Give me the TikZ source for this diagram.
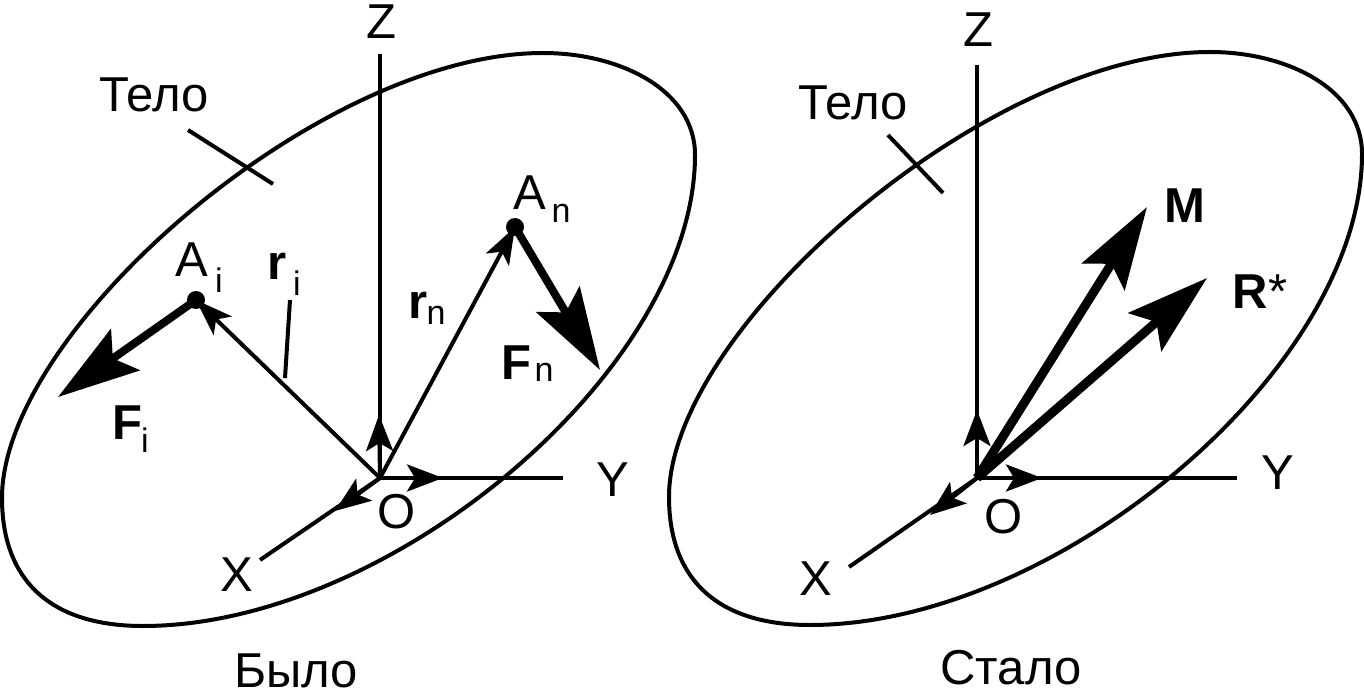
\documentclass[tikz,border=0pt]{standalone}
\usepackage{fontspec}
\setmainfont{Liberation Sans}
\usetikzlibrary{arrows.meta}
\newcommand{\bodyoutline}{(543,53) .. controls (620,53) and (695,90) .. (695,155)
  .. controls (695,370) and (390,626) .. (143,626)
  .. controls (50,626) and (2,580) .. (2,498)
  .. controls (2,330) and (320,53) .. (543,53) -- cycle}
\tikzset{
  x=1pt,y=-1pt,
  thinline/.style={line width=4pt},
  lab/.style={inner sep=0pt,font=\fontsize{49}{52}\selectfont},
  blab/.style={inner sep=0pt,font=\fontsize{49}{52}\selectfont\bfseries},
  sub/.style={inner sep=0pt,font=\fontsize{34}{36}\selectfont},
  axarrow/.style={line width=4pt,-{Stealth[length=36pt,width=27pt,inset=8pt]}},
  thickF/.style={line width=8pt,-{Stealth[length=82pt,width=50pt,inset=15pt]}},
  thickM/.style={line width=9pt,-{Stealth[length=82pt,width=50pt,inset=15pt]}},
  rarrow/.style={line width=4pt,-{Stealth[length=37pt,width=26pt,inset=9pt]}},
  dot/.style={circle,fill=black,inner sep=0pt,minimum size=18pt}
}
\begin{document}
\begin{tikzpicture}
\useasboundingbox (0,0) rectangle (1364,692);
% bodies
\draw[thinline,line join=round] \bodyoutline;
\draw[thinline,line join=round,shift={(667,-1)}] \bodyoutline;
% left coordinates
\coordinate (O1) at (380,478);
\coordinate (Z1) at (380,54);
\coordinate (Y1) at (563,478);
\coordinate (X1) at (260,560);
\coordinate (Zt1) at (379,415);
\coordinate (Yt1) at (443,478);
\coordinate (Xt1) at (335,511);
\node[dot] (Ai) at (196,300) {};
\node[dot] (An) at (515,227) {};
\coordinate (Fit) at (58,397);
\coordinate (Fnt) at (600,370);
\coordinate (L1a) at (188,130);
\coordinate (L1b) at (273,184);
\coordinate (L2a) at (285,378);
\coordinate (L2b) at (290,300);
\draw[thinline] (O1) -- (Z1);
\draw[thinline] (O1) -- (Y1);
\draw[thinline] (O1) -- (X1);
\draw[axarrow] (O1) -- (Zt1);
\draw[axarrow] (O1) -- (Yt1);
\draw[axarrow] (O1) -- (Xt1);
\draw[rarrow] (O1) -- (Ai.center);
\draw[rarrow] (O1) -- (An.center);
\draw[thickF] (Ai.center) -- (Fit);
\draw[thickF] (An.center) -- (Fnt);
\draw[thinline] (L1a) -- (L1b);
\draw[thinline] (L2a) -- (L2b);
% right coordinates
\coordinate (O2) at (977,478);
\coordinate (Z2) at (977,65);
\coordinate (Y2) at (1237,478);
\coordinate (X2) at (849,567);
\coordinate (Zt2) at (977,410);
\coordinate (Yt2) at (1042,478);
\coordinate (Xt2) at (930,515);
\coordinate (Mt) at (1147,207);
\coordinate (Rt) at (1207,278);
\coordinate (L3a) at (888,135);
\coordinate (L3b) at (943,193);
\draw[thinline] (O2) -- (Z2);
\draw[thinline] (O2) -- (Y2);
\draw[thinline] (O2) -- (X2);
\draw[axarrow] (O2) -- (Zt2);
\draw[axarrow] (O2) -- (Yt2);
\draw[axarrow] (O2) -- (Xt2);
\draw[thickM] (O2) -- (Mt);
\draw[thickM] (O2) -- (Rt);
\draw[thinline] (L3a) -- (L3b);
% labels
\node[lab] (tz1) at (381,22) {Z};
\node[lab] (tb1) at (154,95) {Тело};
\node[lab] (tai) at (192,260) {A};
\node[sub] (tais) at (219,280) {i};
\node[blab] (tri) at (277,266) {r};
\node[sub] (tris) at (297,283) {i};
\node[blab] (trn) at (418,305) {r};
\node[sub] (trns) at (436,315) {n};
\node[lab] (tan) at (530,193) {A};
\node[sub] (tans) at (561,213) {n};
\node[blab] (tfn) at (516,363) {F};
\node[sub] (tfns) at (544,372) {n};
\node[blab] (tfi) at (127,423) {F};
\node[sub] (tfis) at (145,440) {i};
\node[lab] (ty1) at (613,480) {Y};
\node[lab] (to1) at (397,512) {O};
\node[lab] (tx1) at (237,575) {X};
\node[lab] (tw1) at (296,671) {Было};
\node[lab] (tz2) at (978,30) {Z};
\node[lab] (tb2) at (853,103) {Тело};
\node[blab] (tm) at (1185,206) {M};
\node[blab] (tr) at (1260,292) {R{\normalfont*}};
\node[lab] (ty2) at (1278,473) {Y};
\node[lab] (to2) at (1004,517) {O};
\node[lab] (tx2) at (816,579) {X};
\node[lab] (tw2) at (1011,668) {Стало};
\end{tikzpicture}
\end{document}
